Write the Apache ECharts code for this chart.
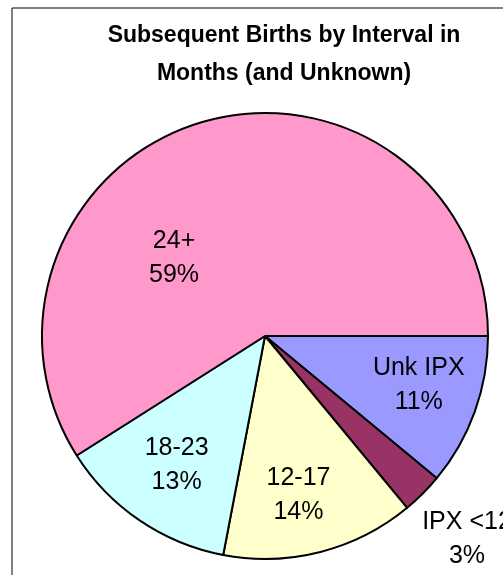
<!DOCTYPE html>
<html>
<head>
<meta charset="utf-8">
<script src="https://cdn.jsdelivr.net/npm/echarts@6/dist/echarts.min.js"></script>
<style>
  html, body { margin: 0; padding: 0; overflow: hidden; background: #fff; }
  #main { width: 568px; height: 575px; }
</style>
</head>
<body>
<div id="main"></div>
<script>
// 数据
var categories = ['Unk IPX', 'IPX <12', '12-17', '18-23', '24+'];
var percents = [11, 3, 14, 13, 59];
var sliceColors = ['#9999FF', '#993366', '#FFFFCC', '#CCFFFF', '#FF99CC'];
// 标签偏移（相对默认 inside 位置）
var labelOffsets = [[46, 10], [121, 122], [5, 48], [-24, 34], [-59, 32]];

var myChart = echarts.init(document.getElementById('main'));

var pieData = [];
for (var i = 0; i < categories.length; i++) {
  pieData.push({
    name: categories[i],
    value: percents[i],
    itemStyle: { color: sliceColors[i] },
    label: { offset: labelOffsets[i] }
  });
}

var option = {
  animation: false,
  title: {
    text: 'Subsequent Births by Interval in\nMonths (and Unknown)',
    left: 'center',
    top: 17,
    padding: 0,
    textStyle: {
      fontFamily: 'Liberation Sans, Arial, sans-serif',
      fontSize: 23,
      fontWeight: 'bold',
      color: '#000',
      lineHeight: 38
    }
  },
  graphic: [{
    type: 'rect',
    shape: { x: 12, y: 8, width: 544, height: 600 },
    style: { fill: 'none', stroke: '#000', lineWidth: 1 },
    silent: true
  }],
  series: [{
    type: 'pie',
    center: [265, 336],
    radius: 223,
    startAngle: 0,
    clockwise: true,
    avoidLabelOverlap: false,
    itemStyle: { borderColor: '#000', borderWidth: 2 },
    label: {
      show: true,
      position: 'inside',
      formatter: '{b}\n{d}%',
      fontFamily: 'Liberation Sans, Arial, sans-serif',
      fontSize: 25,
      lineHeight: 34,
      color: '#000'
    },
    labelLine: { show: false },
    emphasis: { disabled: true },
    data: pieData
  }]
};

myChart.setOption(option);
</script>
</body>
</html>
